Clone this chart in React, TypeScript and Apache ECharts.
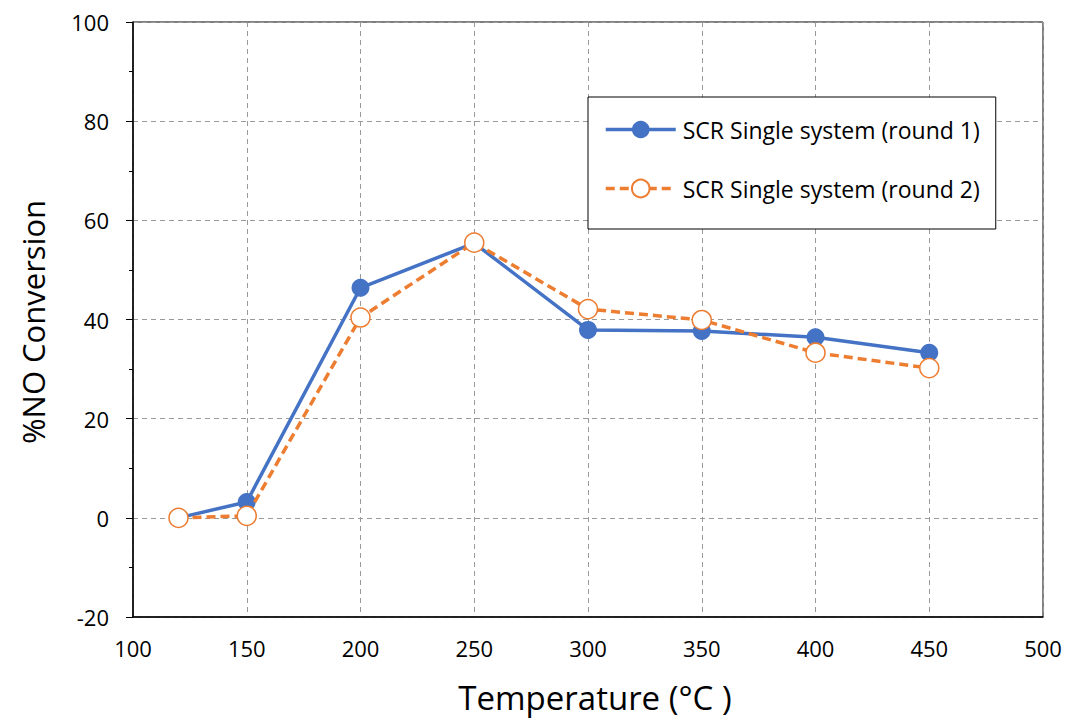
import React, { useEffect, useRef } from "react";
import * as echarts from "echarts";

const temperatures = [120, 150, 200, 250, 300, 350, 400, 450];
const round1 = [0, 3.2, 46.4, 55.4, 37.9, 37.7, 36.4, 33.3];
const round2 = [0, 0.4, 40.4, 55.5, 42.1, 39.9, 33.3, 30.2];
const seriesNames = ["SCR Single system (round 1)", "SCR Single system (round 2)"];

const FONT = "'Open Sans', 'Noto Sans', sans-serif";

export default function App() {
  const ref = useRef<HTMLDivElement>(null);
  useEffect(() => {
    if (!ref.current) return;
    const chart = echarts.init(ref.current, undefined, { renderer: "svg" });
    const pair = (ys: number[]) => temperatures.map((t, i) => [t, ys[i]]);
    chart.setOption({
      animation: false,
      backgroundColor: "#ffffff",
      grid: { left: 133, right: 34, top: 22, bottom: 103, show: true, borderColor: "#000", borderWidth: 1, containLabel: false },
      xAxis: {
        type: "value",
        min: 100,
        max: 500,
        interval: 50,
        axisLine: { show: true, onZero: false, lineStyle: { color: "#000", width: 1.5 } },
        axisTick: { show: false },
        axisLabel: { color: "#000", fontSize: 22, fontFamily: FONT, margin: 20 },
        splitLine: { show: true, lineStyle: { color: "#9a9a9a", type: [5, 4], width: 1 } },
      },
      yAxis: {
        type: "value",
        min: -20,
        max: 100,
        interval: 20,
        axisLine: { show: true, lineStyle: { color: "#000", width: 1.5 } },
        axisTick: { show: true, inside: false, length: 7, lineStyle: { color: "#000" } },
        minorTick: { show: true, splitNumber: 2, length: 4, lineStyle: { color: "#000" } },
        axisLabel: { color: "#000", fontSize: 22, fontFamily: FONT, margin: 24 },
        splitLine: { show: true, lineStyle: { color: "#9a9a9a", type: [5, 4], width: 1 } },
      },
      legend: {
        orient: "vertical",
        left: 588,
        top: 97,
        width: 409,
        backgroundColor: "#fff",
        borderColor: "#000",
        borderWidth: 1,
        padding: [21, 16, 29, 16],
        itemGap: 36,
        itemWidth: 70,
        itemHeight: 22,
        lineStyle: { width: 3.5 },
        textStyle: { color: "#000", fontSize: 23, fontFamily: FONT, padding: [0, 0, 0, 2] },
        data: seriesNames,
      },
      series: [
        {
          name: seriesNames[0],
          type: "line",
          data: pair(round1),
          symbol: "circle",
          symbolSize: 18,
          itemStyle: { color: "#4472c4" },
          lineStyle: { color: "#4472c4", width: 3.5 },
          z: 2,
        },
        {
          name: seriesNames[1],
          type: "line",
          data: pair(round2),
          symbol: "circle",
          symbolSize: 19,
          itemStyle: { color: "#ffffff", borderColor: "#ed7d31", borderWidth: 1.5 },
          lineStyle: { color: "#ed7d31", width: 3.5, type: [9, 5] },
          z: 3,
        },
      ],
      graphic: [
        {
          type: "text",
          x: 33,
          y: 322,
          rotation: Math.PI / 2,
          style: {
            text: "%NO Conversion",
            fill: "#000",
            font: `31px ${FONT}`,
            textAlign: "center",
            textVerticalAlign: "middle",
          },
        },
        {
          type: "text",
          x: 595,
          y: 697,
          style: {
            text: "Temperature (°C )",
            fill: "#000",
            font: `33px ${FONT}`,
            textAlign: "center",
            textVerticalAlign: "middle",
          },
        },
      ],
    });
    return () => chart.dispose();
  }, []);
  return <div ref={ref} style={{ width: 1077, height: 720, position: "absolute", left: 0, top: 0 }} />;
}
